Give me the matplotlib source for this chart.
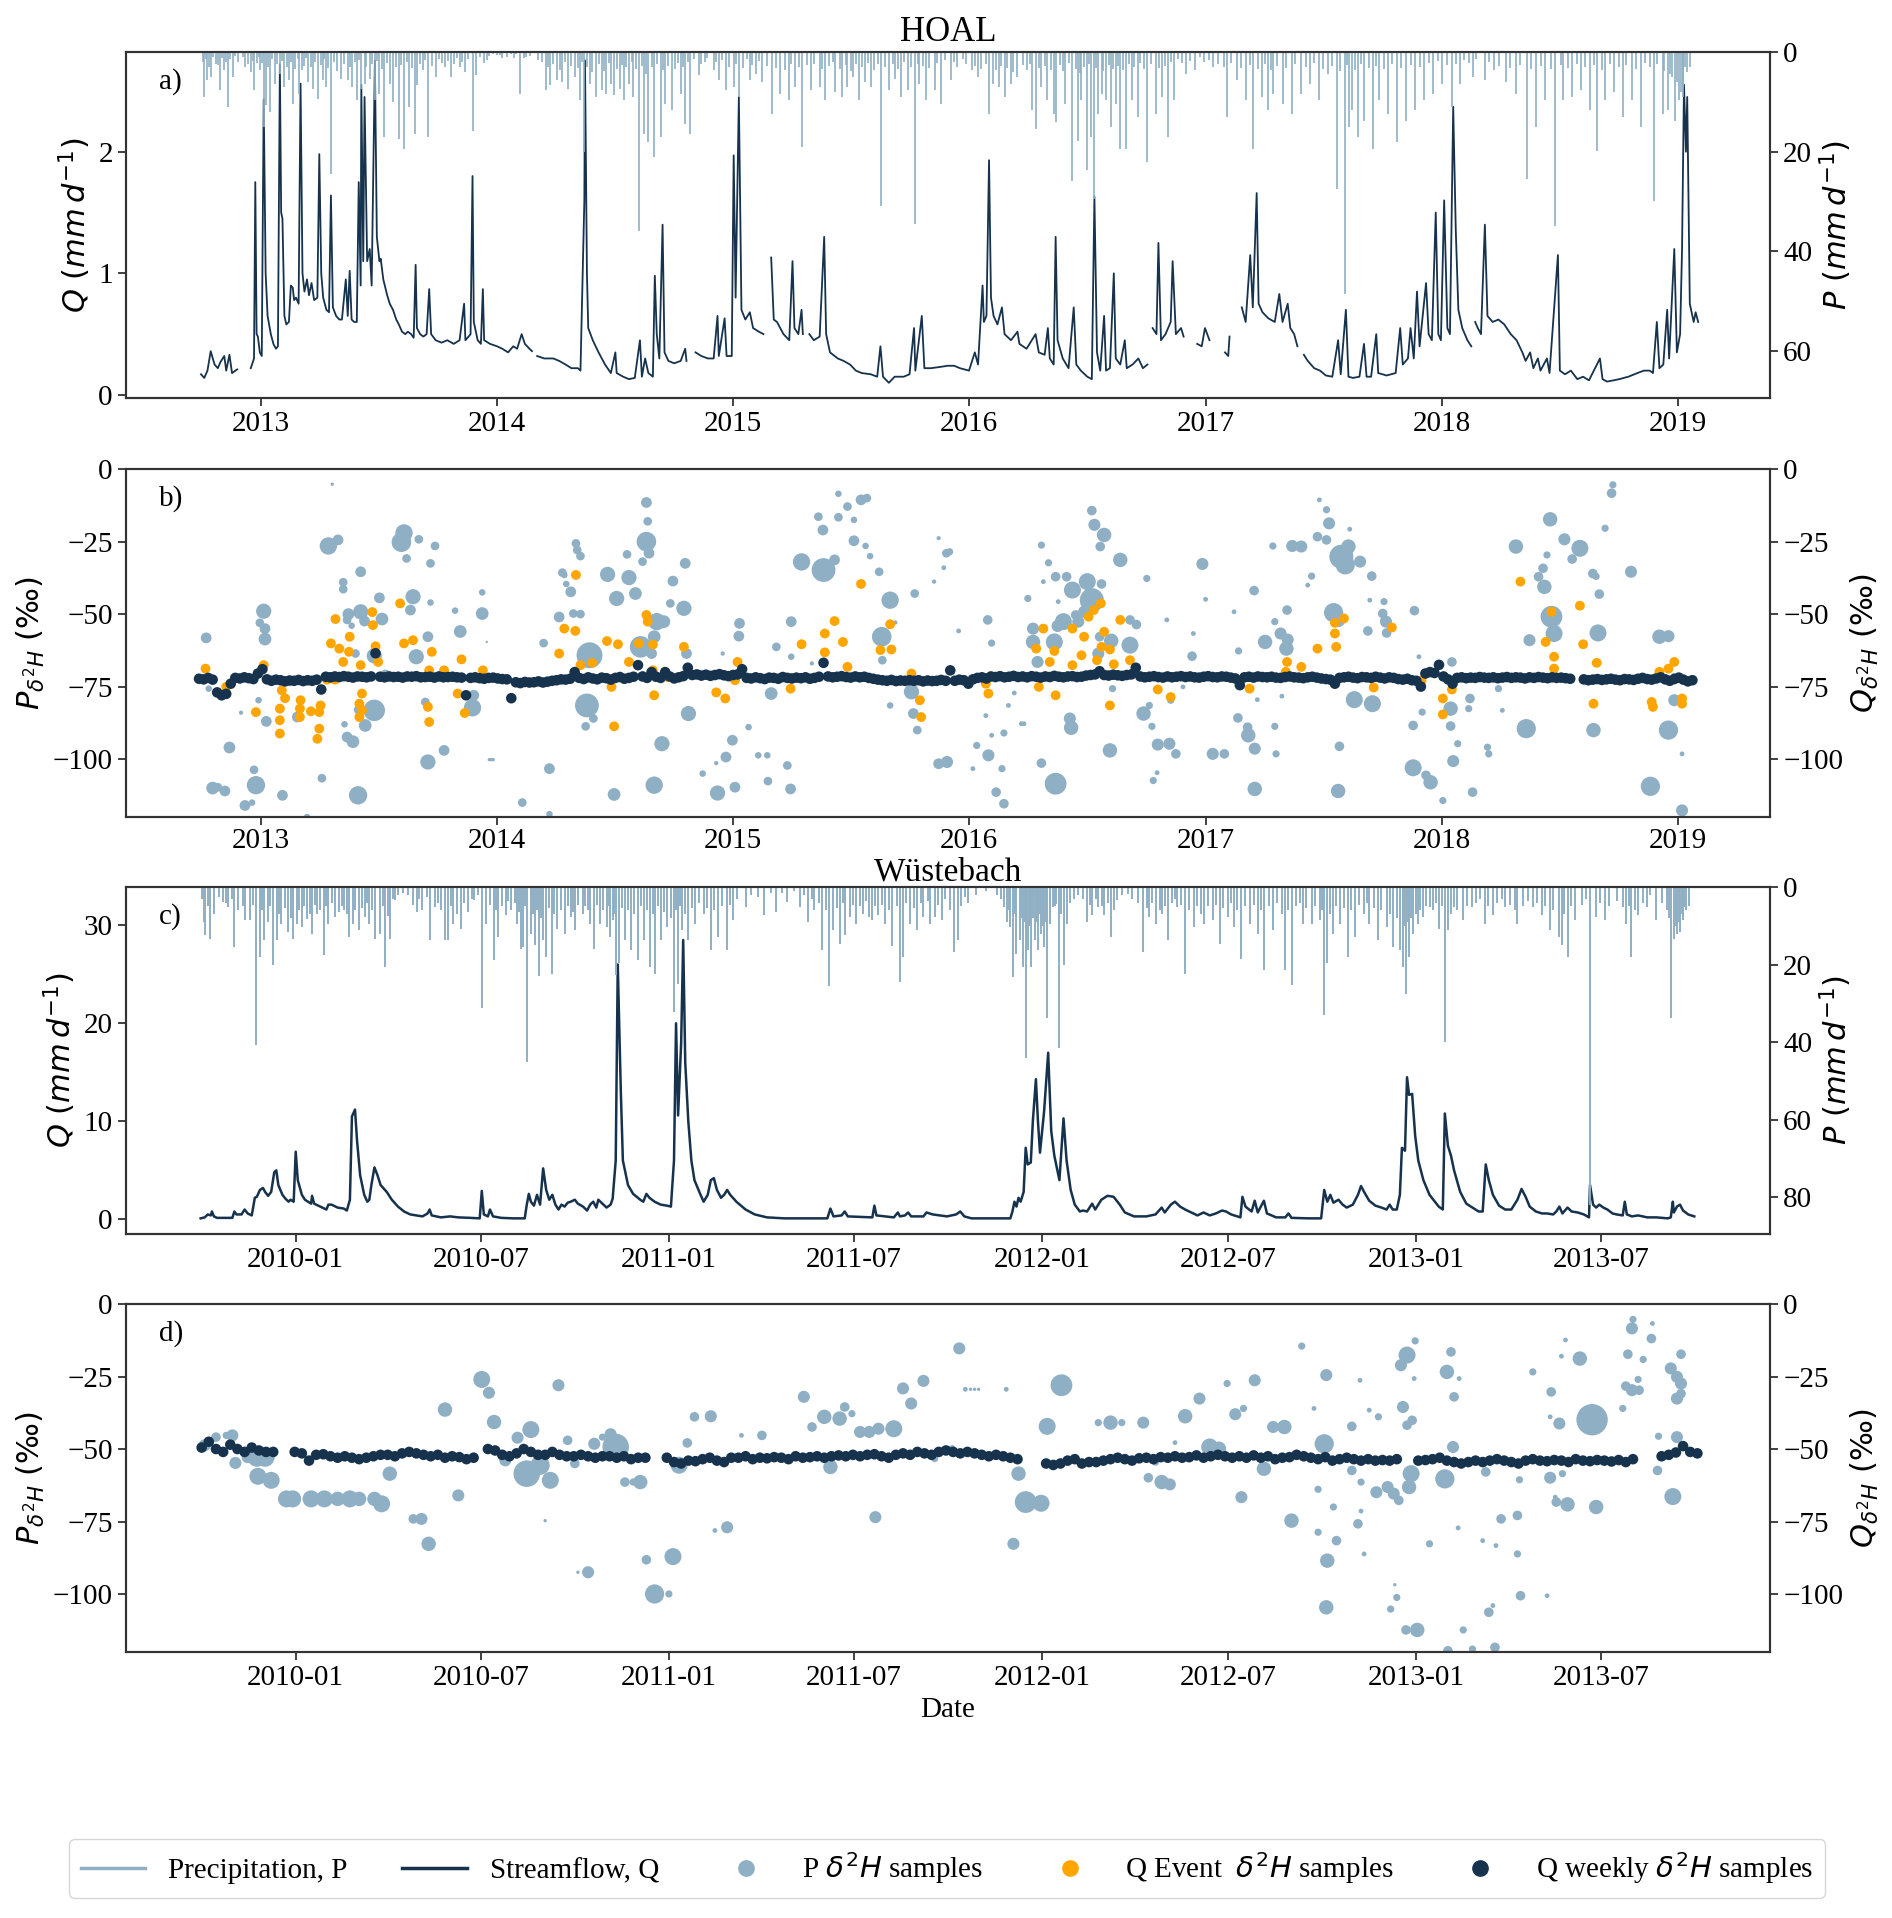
import numpy as np
import pandas as pd
import matplotlib
matplotlib.use("Agg")
import matplotlib.pyplot as plt
import matplotlib.dates as mdates
from matplotlib.lines import Line2D

plt.rcParams['font.family'] = ['Liberation Serif', 'DejaVu Sans']
plt.rcParams['mathtext.fontset'] = 'dejavusans'

nan = np.nan

# ---------------- HOAL (days since 2013-01-01) ----------------
hoal_ref = '2013-01-01'

hoal_q = [(-93,.17),(-88,.14),(-83,.20),(-78,.36),(-72,.25),(-67,.22),(-63,.27),(-57,.32),(-54,.20),(-49,.33),
    (-45,.18),(-37,.21),(-30,nan),(-16,.22),(-11,.30),(-9,1.75),(-7,.50),(-5,.48),(-2,.35),(1,.32),(4,2.43),(7,1.0),
    (10,.65),(15,.50),(19,.42),(23,.38),(26,.40),(29,2.72),(31,1.5),(33,1.45),(36,.65),(39,.58),(43,.60),(46,.90),
    (49,.88),(51,.78),(54,.80),(58,.75),(61,2.56),(64,1.0),(67,.85),(71,.95),(74,.82),(78,.92),(82,.78),(87,.80),
    (90,1.98),(93,1.0),(96,.80),(101,.70),(105,.68),(108,1.64),(111,.72),(116,.65),(121,.62),(125,.62),(131,.95),
    (134,.65),(137,1.02),(140,.62),(144,.60),(148,.60),(151,1.75),(154,.90),(155,2.55),(158,1.1),(160,2.45),(164,1.1),
    (168,1.2),(171,.90),(176,2.75),(179,1.3),(183,1.1),(185,1.12),(189,.95),(195,.82),(199,.75),(204,.70),(209,.62),
    (213,.58),(218,.52),(223,.50),(227,.52),(232,.50),(236,.47),(239,1.07),(241,.55),(246,.50),(251,.48),(256,.50),
    (260,.87),(263,.50),(270,.45),(279,.43),(288,.45),(298,.42),(307,.45),(314,.75),(316,.45),(321,.48),(324,.50),
    (327,1.8),(329,.60),(335,.45),(340,.42),(343,.87),(345,.45),(354,.42),(365,.40),(373,.38),(382,.35),(390,.40),
    (396,.38),(403,.50),(408,.42),(415,.38),(419,.36),(423,nan),(427,.32),(438,.30),(452,.30),(461,.28),(471,.25),
    (480,.22),(490,.22),(494,.20),(500,1.6),(501,2.75),(504,1.0),(506,.55),(513,.45),(522,.35),(532,.25),(541,.18),
    (548,.35),(550,.18),(560,.15),(569,.13),(578,.14),(586,.45),(589,.15),(594,.30),(599,.18),(606,.15),(609,.98),
    (612,.50),(616,.30),(621,1.4),(624,.35),(630,.28),(639,.26),(649,.28),(656,.38),(658,.28),(665,nan),(672,.35),
    (681,.32),(691,.30),(700,.30),(706,.65),(708,.32),(717,.63),(720,.32),(728,.32),(731,1.97),(734,.80),(739,2.45),
    (743,.70),(749,.62),(756,.68),(761,.55),(770,.52),(777,.50),(782,nan),(789,1.13),(793,.62),(798,.60),(808,.50),
    (817,.45),(822,1.1),(825,.55),(831,.50),(836,.70),(838,.50),(843,nan),(848,.50),(855,.45),(864,.48),(871,1.3),
    (874,.50),(880,.35),(892,.30),(901,.28),(911,.25),(920,.20),(929,.18),(943,.17),(953,.15),(958,.40),(962,.15),
    (971,.10),(980,.15),(994,.15),(1003,.17),(1010,.55),(1012,.20),(1022,.65),(1026,.22),(1036,.22),(1050,.23),
    (1062,.24),(1072,.24),(1081,.22),(1095,.20),(1104,.35),(1109,.25),(1116,.90),(1118,.60),(1122,.65),(1126,1.93),
    (1129,.80),(1133,.65),(1139,.58),(1146,.72),(1150,.50),(1160,.45),(1170,.52),(1173,.42),(1184,.38),(1198,.50),
    (1203,.35),(1212,.33),(1217,.55),(1220,.30),(1226,.25),(1229,1.3),(1232,.45),(1240,.30),(1249,.22),(1257,.72),
    (1261,.25),(1268,.20),(1278,.15),(1285,.13),(1289,1.63),(1293,.35),(1298,.20),(1304,.65),(1307,.20),(1313,.22),
    (1319,1.0),(1322,.30),(1329,.25),(1336,.45),(1339,.22),(1348,.25),(1357,.30),(1364,.22),(1371,.25),(1375,nan),
    (1379,.55),(1385,.50),(1388,1.25),(1392,.45),(1399,.50),(1407,.60),(1410,1.1),(1415,.50),(1423,.55),(1427,.48),
    (1437,nan),(1448,.42),(1455,.40),(1460,.55),(1467,.45),(1479,nan),(1491,.35),(1496,.32),(1498,.48),(1507,nan),
    (1517,.72),(1523,.60),(1530,1.15),(1534,.72),(1540,1.66),(1543,.75),(1549,.68),(1558,.63),(1568,.60),(1575,.83),
    (1580,.60),(1588,.75),(1592,.55),(1598,.50),(1603,.40),(1608,nan),(1613,.33),(1619,.28),(1629,.22),(1638,.20),
    (1647,.16),(1657,.15),(1666,.45),(1670,.17),(1678,.70),(1682,.15),(1689,.14),(1699,.15),(1706,.42),(1710,.15),
    (1717,.15),(1725,.50),(1728,.18),(1741,.16),(1755,.18),(1762,.55),(1766,.25),(1774,.30),(1778,.55),(1783,.30),
    (1788,.85),(1792,.40),(1802,.92),(1806,.50),(1811,.45),(1817,1.5),(1821,.50),(1825,.45),(1830,1.6),(1835,.55),
    (1839,.50),(1844,2.37),(1848,1.35),(1852,.70),(1858,.55),(1866,.45),(1872,.40),(1875,nan),(1878,.60),(1882,.55),
    (1887,.50),(1893,1.4),(1897,.65),(1905,.60),(1914,.62),(1923,.58),(1933,.50),(1942,.45),(1951,.35),(1956,.28),
    (1963,.35),(1968,.22),(1975,.30),(1979,.20),(1989,.30),(1993,.18),(2006,1.15),(2009,.20),(2017,.17),(2026,.20),
    (2036,.13),(2045,.15),(2054,.12),(2071,.30),(2075,.13),(2082,.11),(2092,.12),(2101,.13),(2115,.15),(2129,.18),
    (2139,.20),(2148,.20),(2153,.18),(2159,.60),(2163,.22),(2169,.25),(2175,.70),(2178,.30),(2186,1.2),(2190,.35),
    (2195,.50),(2198,1.2),(2201,2.55),(2204,2.0),(2206,2.45),(2210,.75),(2216,.60),(2219,.68),(2223,.60)]

hoal_p = [(-88,9),(-83,5.7),(-77,5),(-67,2.7),(-63,7.7),(-57,3.7),(-51,11),(-44,5),(-25,3),(-16,4),(-11,7.7),
    (-7,2.3),(-2,3.7),(5,15),(8,10.7),(14,12),(22,6.4),(29,4.4),(36,7),(43,5.7),(50,10.4),(59,8.4),(64,3.7),(73,6),
    (80,7.4),(88,9.4),(95,5.7),(101,7),(108,24.5),(124,5.4),(134,5.7),(141,7),(148,9.7),(155,7.4),(160,6.4),
    (168,5.4),(176,9.7),(183,8.4),(190,17),(199,6.4),(204,10),(213,17.4),(221,19.5),(229,11),(238,16.4),(241,6.7),
    (251,3.7),(258,17),(270,5),(284,3),(293,5),(307,3),(316,4),(327,15.8),(333,4.7),(344,2.3),(358,0.4),(365,0.7),
    (373,1.3),(387,0.4),(391,1.3),(401,8.4),(410,1),(429,1.7),(440,7.7),(447,6.7),(457,5.7),(466,6),(475,7.4),
    (485,5),(494,9.7),(500,20),(508,6.4),(518,9),(527,7.7),(534,8.4),(541,6.4),(546,8.7),(555,7.4),(562,9.7),
    (569,6.4),(576,9),(585,36),(592,16.4),(599,18),(608,21),(618,17),(625,10.4),(635,11.7),(649,8.4),(656,14.4),
    (663,16.4),(677,4.7),(686,2),(700,3.7),(709,5.7),(719,7.7),(731,7),(739,9),(756,5.7),(766,4.4),(775,6),
    (791,12.4),(803,8.4),(817,9.7),(826,7),(837,19),(850,7.7),(864,7),(873,9.7),(887,8),(899,9),(906,7),(915,5),
    (925,9.7),(934,6),(943,7),(959,31),(972,7.7),(981,5.4),(990,9),(1000,7.7),(1011,34.6),(1018,6.4),(1028,9.7),
    (1042,7.7),(1051,10.4),(1067,5.7),(1076,3),(1100,3.7),(1109,5),(1126,12.4),(1132,6.4),(1142,7),(1151,9),
    (1160,6.4),(1170,5),(1193,11.7),(1199,15.4),(1207,7),(1216,9.7),(1226,12.4),(1230,14),(1244,10.4),(1255,26),
    (1263,17.8),(1269,9.7),(1277,23.8),(1283,17),(1288,29.5),(1294,12.4),(1300,8.4),(1307,9.7),(1314,15),(1322,10.4),
    (1328,19.5),(1338,19.5),(1347,9.7),(1356,13),(1370,22),(1384,12.4),(1394,9),(1403,17),(1412,9.7),(1431,4.4),
    (1445,3.7),(1459,2),(1473,3),(1494,13),(1510,5.7),(1524,9.7),(1535,19.5),(1548,9),(1557,11.7),(1566,8.4),
    (1580,10.4),(1594,12.4),(1608,8.4),(1622,6.4),(1636,9.7),(1650,4.4),(1664,27.5),(1676,48.7),(1683,15),(1687,11.7),
    (1697,17),(1706,13.8),(1720,19.5),(1729,9.7),(1743,12.4),(1757,18),(1771,13.8),(1785,11.7),(1799,9.7),(1813,8.4),
    (1826,6.4),(1842,11),(1855,6.4),(1874,5),(1893,5.7),(1907,3.7),(1925,6),(1941,8.4),(1958,25.5),(1972,15),
    (1986,9.7),(2002,35),(2014,9.7),(2028,9),(2042,7.7),(2056,11.7),(2067,19.8),(2079,9.7),(2093,8),(2107,13),
    (2121,9.7),(2135,15),(2154,30),(2168,12.4),(2177,11.7),(2187,13.8),(2194,9.7),(2199,9),(2203,3),
    # smaller daily totals
    (-90,2),(-85,1.5),(-80,3),(-74,1),(-70,2.5),(-60,1.2),(-55,2),(-48,1.5),(-40,0.8),(-35,2),(-28,1),(-20,2.5),
    (-12,1.8),(-4,1),(2,2.2),(10,3),(17,1.5),(25,2.5),(32,1.8),(40,3),(46,2),(53,3.5),(57,1.5),(66,2.8),(70,1.2),
    (77,3),(84,2),(92,2.6),(98,1.4),(104,3.2),(112,2),(118,3.8),(128,2.4),(137,3),(145,2),(151,1.6),(163,3),
    (172,2.5),(180,1.8),(187,3.4),(195,2.2),(208,3),(216,2.6),(225,2),(233,3.2),(245,2.4),(254,1.6),(264,2.8),
    (275,1.5),(280,2.2),(289,1.8),(298,2.5),(303,1.2),(311,2),(320,1.5),(338,1),(349,1.6),(352,0.8),(370,0.6),
    (380,1),(395,0.5),(406,1.2),(416,0.8),(435,2),(444,3),(452,2.4),(462,3.6),(470,2),(480,2.8),(490,3.3),(497,2),
    (504,3),(512,4),(522,2.5),(530,3.8),(538,2.2),(551,3.4),(558,2.6),(565,3.1),(573,2),(580,3.5),(589,2.8),
    (596,4.4),(604,3),(612,2.4),(621,3.6),(630,2.8),(640,3.4),(645,2.2),(653,3),(660,2),(670,1.5),(681,2.5),
    (690,1.2),(704,2),(713,1.6),(724,3),(735,2.4),(746,3.2),(752,1.5),(760,2.6),(770,1.8),(782,2.9),(796,3.3),
    (810,3.6),(820,2.5),(832,3),(845,2.7),(855,2.4),(868,3.5),(878,2.8),(884,2),(895,3.4),(904,2.6),(912,3.8),
    (920,2.4),(930,3),(938,2.2),(948,3.6),(955,2.4),(965,3),(977,2.5),(985,3.4),(995,2),(1005,3.1),(1016,2.4),
    (1024,2.8),(1033,3.2),(1045,2.2),(1058,1.6),(1072,2),(1085,1.4),(1091,2.5),(1104,2.8),(1113,3.5),(1121,2.4),
    (1137,3.6),(1145,2.8),(1154,3.2),(1163,4),(1178,2.6),(1185,3.6),(1190,2.4),(1204,3.3),(1212,2.8),(1222,3.7),
    (1235,2.6),(1241,3.8),(1250,2.2),(1260,3.5),(1266,4.2),(1273,3),(1280,2.4),(1292,3.2),(1303,3.8),(1311,2.6),
    (1318,3.4),(1326,2.8),(1333,3.6),(1342,2.4),(1351,3),(1360,2.2),(1366,3.4),(1376,2.5),(1389,3.2),(1398,2.8),
    (1407,2),(1418,1.4),(1425,2.2),(1437,1.8),(1452,1),(1466,1.6),(1480,2.4),(1490,3),(1500,2.2),(1515,3.2),
    (1530,2.6),(1542,3.5),(1553,2.4),(1562,3.6),(1572,2.8),(1585,3.2),(1600,2.5),(1617,3),(1628,2.2),(1642,3.4),
    (1657,2.8),(1669,3.8),(1680,2.6),(1692,3.6),(1701,2.4),(1713,3.3),(1725,2.8),(1737,3.4),(1750,2.5),(1764,3.2),
    (1778,2.6),(1792,3.1),(1806,2.3),(1820,1.8),(1834,2.6),(1848,2.4),(1860,1.6),(1868,2.3),(1880,1.5),(1900,2),
    (1915,2.8),(1932,3.2),(1948,2.6),(1965,3.5),(1980,2.8),(1995,3.4),(2010,2.6),(2022,3.3),(2035,2.5),(2048,3),
    (2062,2.7),(2074,3.6),(2086,2.4),(2100,3.1),(2112,2.6),(2126,3.4),(2140,2.2),(2148,3),(2160,2.5),(2170,3.8),
    (2180,4.5),(2183,5),(2190,6),(2196,8),(2200,7),(2205,4),(2210,3)]

# P isotope samples: (day, d2H, sample precipitation mm)
hoal_p_iso = [(-85,-58.2,10),(-81,-75.7,3.7),(-75,-110,14),(-67,-109.7,6.5),(-56,-111,10),(-49,-96,12),(-31,-84,1.6),
    (-25,-116,10),(-14,-115,3.7),(-11,-103.7,6.5),(-8,-109,29),(-4,-79.7,3.7),(-2,-53,6.5),(4,-49,20),(6,-55,10),
    (6,-58.6,14),(8,-87,10),(33,-112.5,10),(36,-79,3.7),(56,-85.5,10),(71,-120,3.7),(94,-106.6,6.5),(104,-26.5,26),
    (119,-24.4,10),(110,-5.2,1),(127,-39,6.5),(127,-41.4,6.5),(133,-52,6.5),(135,-50,12),(140,-54,3.7),(146,-63.6,6.5),
    (150,-83,6.5),(129,-88,3.7),(133,-92.4,10),(142,-94,14),(150,-112.5,29),(154,-35.4,10),(154,-49.2,20),(160,-52.4,10),
    (161,-88.4,14),(175,-83.2,40),(175,-64.4,20),(183,-44.4,10),(187,-51.7,14),(192,-71,10),(217,-25.2,33),(221,-22,26),
    (225,-30.8,6.5),(235,-44,20),(231,-48.6,10),(244,-24.2,6.5),(240,-64.7,20),(258,-57.8,10),(262,-32.5,6.5),
    (269,-26.5,6.5),(262,-46,3.7),(254,-80.3,6.5),(258,-101,20),(283,-97,10),(300,-48.8,3.7),(308,-56,14),
    (327,-82.3,26),(329,-78,10),(342,-49.8,14),(342,-42.5,3.7),(349,-59.6,0.5),(353,-100.2,1),(356,-100.2,1),
    (359,-100.2,1),(404,-115,6.5),(437,-60,6.5),(446,-103.3,10),(446,-119,3.7),(461,-51,10),(466,-35.7,6.5),
    (469,-36.5,3.7),(472,-39.6,3.7),(479,-42.3,10),(487,-25.6,6.5),(489,-27.9,6.5),(494,-30,6.5),(483,-49.8,6.5),
    (494,-50,6.5),(508,-64.2,58),(504,-81.5,49),(502,-88.7,6.5),(514,-86,6.5),(536,-36.3,20),(550,-44.6,20),
    (546,-112.2,14),(566,-29.4,6.5),(569,-37.4,20),(579,-42.9,14),(590,-31.9,6.5),(596,-25,33),(598,-18,6.5),
    (596,-11.5,10),(600,-29,10),(587,-61.3,40),(612,-52.6,26),(623,-52.6,14),(608,-57.8,14),(604,-63.6,10),
    (620,-94.7,20),(608,-109,26),(633,-46.3,6.5),(637,-38.6,10),(654,-48,20),(656,-32.5,10),(661,-84.3,20),
    (658,-63.6,10),(706,-111.7,20),(733,-109.7,10),(719,-99.3,10),(729,-93.5,10),(740,-53.2,10),(739,-57.6,10),
    (754,-89,3.7),(769,-98.7,3.7),(783,-98.7,3.7),(784,-107.6,6.5),(789,-77.4,14),(797,-61.3,6.5),(814,-102.2,6.5),
    (819,-110.3,10),(820,-52.6,10),(820,-64.7,3.7),(836,-32,26),(862,-16.4,6.5),(869,-21,10),(870,-34.8,49),
    (887,-31.3,10),(893,-8.5,3.7),(893,-16.6,6.5),(907,-12.9,6.5),(917,-17.5,3.7),(917,-24.7,10),(928,-10.6,10),
    (937,-10,6.5),(935,-26.5,3.7),(942,-30,3.7),(956,-35.4,6.5),(973,-45.2,26),(960,-57.8,33),(961,-65.9,6.5),
    (973,-81.5,3.7),(1006,-76.8,20),(1009,-84.3,10),(1015,-90,6.5),(1011,-42.9,6.5),(1048,-23.8,1.5),(1048,-101.6,10),
    (683,-105,3.7),(704,-101.4,1.6),(714,-63.6,1.6),(852,-67,1.6),(981,-52.9,1.6),(1041,-38.8,1.6),(1060,-29,6.5),
    (1065,-28.5,4.5),(1056,-34,2),(1061,-101,12.6),(1079,-55.8,2),(1101,-103.3,2),(1107,-95.3,4.5),(1125,-98.7,12.6),
    (1124,-52,8),(1130,-60,4.5),(1121,-85,2),(1130,-91.8,2),(1137,-111.4,8),(1146,-103.3,4.5),(1149,-91,4.5),
    (1149,-115.4,8),(1156,-81.5,2),(1165,-77.2,2),(1176,-87.8,2),(1180,-87.8,2),(1186,-44.6,4.5),(1194,-55,12.6),
    (1194,-59.6,18),(1201,-66.5,12.6),(1207,-26.2,4.5),(1207,-101.4,8),(1210,-38.8,2),(1218,-32.3,4.5),(1227,-59.6,25),
    (1229,-37.1,8),(1233,-45.7,2),(1232,-54.1,12.6),(1229,-108.5,41),(1241,-52.6,25),(1246,-37.1,8),(1251,-86,12.6),
    (1253,-89.2,18),(1255,-41.7,25),(1260,-50.3,8),(1264,-52.6,12.6),(1273,-49.2,12.6),(1278,-38.8,25),(1285,-45.2,50),
    (1285,-14.3,8),(1289,-19.2,12.6),(1304,-22.7,18),(1298,-26.7,8),(1300,-39.6,8),(1295,-63.6,12.6),(1297,-57.8,8),
    (1313,-97,18),(1315,-59.2,18),(1317,-75.7,4.5),(1329,-31.3,18),(1344,-60.7,25),(1344,-52,8),(1354,-53.6,8),
    (1370,-37.7,4.5),(1365,-84.3,18),(1374,-81.5,4.5),(1378,-88.7,4.5),(1380,-107.4,4.5),(1386,-104.7,2),(1387,-95,12.6),
    (1405,-94.7,12.6),(1415,-98.2,8),(1401,-52,2),(1407,-79.7,4.5),(1426,-75.1,2),(1442,-56.7,2),(1440,-64.5,8),
    (1456,-32.7,12.6),(1461,-44.9,2),(1472,-98.2,12.6),(1490,-98.2,8),(1505,-49.2,2),(1512,-62.7,4.5),(1511,-85.8,8),
    (1526,-89,8),(1527,-91.8,18),(1537,-96.4,12.6),(1537,-110.3,18),(1536,-41.9,8),(1541,-79.5,2),(1553,-59.6,18),
    (1565,-26.5,4.5),(1568,-52.6,4.5),(1570,-98.2,4.5),(1568,-88.7,4.5),(1577,-56.7,12.6),(1579,-78.3,2),(1587,-48.6,8),
    (1586,-61.9,18),(1588,-58.8,12.6),(1595,-26.5,12.6),(1609,-26.7,12.6),(1619,-40,2),(1625,-36.9,4.5),(1634,-23.3,8),
    (1637,-10.6,2),(1648,-14,4.5),(1652,-18.7,12.6),(1648,-24.4,8),(1659,-49.5,32),(1666,-52,18),(1668,-95.6,8),
    (1666,-111,18),(1671,-30.2,50),(1682,-26.7,18),(1677,-33,32),(1700,-31.9,12.6),(1684,-20.7,2),(1718,-36.9,8),
    (1691,-79.5,25),(1719,-80.9,25),(1712,-55.8,8),(1715,-45.2,2),(1737,-45.7,4.5),(1735,-49.8,8),(1740,-52.6,12.6),
    (1741,-56.5,8),(1784,-48.8,8),(1782,-88.4,8),(1782,-103,25),(1802,-105.6,8),(1809,-108,18),(1796,-83.8,4.5),
    (1791,-64.7,2),(1828,-114.3,4.5),(1840,-82.6,18),(1842,-66.5,8),(1840,-88.6,8),(1844,-100.7,12.6),(1851,-94.7,4.5),
    (1870,-79.1,8),(1868,-82.6,4.5),(1874,-111.4,8),(1897,-95.9,4.5),(1899,-98.2,4.5),(1914,-75.7,4.5),(1920,-83.2,2),
    (1941,-26.7,18),(1957,-89.5,32),(1962,-59,12.6),(1976,-37.1,8),(1985,-40.6,18),(1983,-34.2,8),(1994,-17.3,18),
    (1989,-29.6,4.5),(1996,-50.9,41),(2000,-56.7,25),(2016,-24.2,12.6),(2040,-27.3,25),(2028,-31,8),(2061,-90,18),
    (2068,-56.5,25),(2070,-43.1,8),(2060,-36,8),(2065,-37,4.5),(2079,-20.4,4.5),(2089,-8.3,8),(2091,-5.4,4.5),
    (2119,-35.4,12.6),(2149,-109.4,32),(2163,-57.8,18),(2177,-57.6,12.6),(2177,-90,32),(2186,-79.7,12.6),
    (2198,-117.7,12.6),(2198,-98.2,2),(2185,-71.1,2)]

hoal_q_event = [(-86,-68.8),(-54,-75.1),(-8,-83.8),(4,-67.6),(32,-76.3),(29,-82.6),(29,-86.6),(29,-91.2),(37,-79),
    (61,-79.7),(60,-82.6),(60,-85.5),(77,-83.5),(92,-81.5),(90,-83.8),(90,-89.5),(87,-93),(108,-60.1),(115,-51.7),
    (121,-61.9),(127,-66.5),(137,-57.8),(136,-63),(102,-72.6),(114,-72.6),(154,-67.6),(156,-77.4),(152,-80.9),
    (156,-83.2),(152,-85.5),(172,-49.3),(173,-53.8),(177,-61.1),(181,-66.5),(215,-46.3),(221,-60.1),(235,-59),
    (264,-63),(260,-69.4),(258,-82),(260,-87.2),(283,-69.4),(304,-77.4),(310,-65.6),(315,-84.1),(343,-69.4),
    (461,-63.6),(469,-55),(487,-36.5),(486,-55.8),(494,-67.6),(512,-66.8),(535,-59.3),(552,-60.4),(542,-75.1),
    (546,-88.7),(569,-66.5),(584,-60.1),(596,-50.3),(598,-52.6),(606,-60.5),(606,-69.4),(608,-78),(629,-71.7),
    (654,-61.3),(704,-77),(718,-79.1),(737,-66.5),(733,-72.8),(819,-75.7),(836,-60.4),(872,-56.7),(887,-52.4),
    (872,-63.2),(900,-59.6),(907,-68.2),(928,-39.6),(958,-62.4),(973,-53.5),(975,-62.2),(1006,-70.5),(1019,-79.7),
    (1021,-85.5),(1125,-77.4),(1121,-74),(1199,-61.9),(1210,-55),(1227,-62.7),(1220,-66.5),(1203,-75.1),(1229,-78),
    (1255,-55),(1255,-67.6),(1269,-64.2),(1273,-57.8),(1280,-50.9),(1288,-48.6),(1299,-46.3),(1293,-65.9),
    (1304,-56.1),(1300,-61.3),(1313,-62.2),(1319,-67.3),(1329,-52),(1313,-81.5),(1344,-65.9),(1387,-76),(1407,-78.6),
    (1587,-66.5),(1609,-68.2),(1585,-69.9),(1529,-75.7),(1634,-61.9),(1661,-53),(1661,-56.7),(1663,-61.3),
    (1675,-51.5),(1749,-54.6),(1721,-75.3),(1795,-73),(1828,-79.1),(1828,-84.6),(1842,-76),(1948,-38.8),(1987,-59.6),
    (1996,-49.2),(2000,-64.7),(2000,-68.8),(2040,-47.1),(2045,-60.4),(2066,-66.8),(2061,-80.9),(2151,-80.3),
    (2153,-82),(2163,-69.9),(2177,-68.8),(2186,-66.5),(2198,-79.1),(2198,-80.9)]

# weekly streamflow samples, first on 2012-09-27
hoal_weekly_start = '2012-09-27'
hoal_weekly = [-72.3,-72.5,-72.0,-72.6,-77.0,-78.0,-77.5,-74.0,-72.0,-72.2,-71.8,-72.1,-72.4,-70.5,-69.0,
    -72.5,-73.0,-72.6,-72.8,-73.2,-72.9,-73.0,-72.7,-73.1,-72.8,-73.0,-72.6,-76.0,
    -71.6,-71.8,-71.5,-71.7,-71.4,-71.6,-71.9,-71.5,-71.6,-71.8,-71.5,-63.5,
    -71.6,-71.8,-71.5,-71.7,-71.6,-71.9,-71.5,-71.6,-71.4,-71.8,-71.7,-71.6,-71.9,-71.5,-71.8,-71.7,-71.6,-71.8,-71.9,
    -78.0,-72.0,-71.8,-72.1,-72.3,-72.0,-71.9,-72.2,-72.4,-72.5,-79.0,
    -73.5,-73.8,-73.4,-73.6,-73.5,-73.2,-73.6,-73.3,-73.0,-72.8,-72.5,-72.6,-72.3,-70.0,
    -72.0,-72.4,-71.8,-72.2,-72.5,-71.9,-72.1,-72.6,-72.0,-71.7,-72.3,-72.0,-71.6,-67.6,-71.5,-72.0,-70.0,
    -71.6,-72.0,-70.0,-71.5,-72.2,-71.8,-71.4,-68.5,
    -71.0,-70.8,-71.2,-70.9,-71.3,-71.0,-70.7,-71.1,-71.4,-71.0,-70.8,-69.0,
    -72.0,-72.2,-71.8,-72.1,-72.4,-71.9,-72.0,-72.3,-71.7,-72.0,-72.2,-71.9,-72.1,-71.8,-72.3,-72.0,-71.6,-66.8,
    -71.5,-71.8,-71.6,-71.4,-71.7,-71.9,-71.5,-71.8,-71.6,-72.0,-72.3,-72.6,-72.8,-73.0,-72.7,-73.1,-72.9,-73.0,-72.8,
    -73.0,-72.8,-73.2,-72.9,-73.1,-73.0,-72.7,-73.0,-69.4,
    -73.0,-72.6,-72.8,-74.0,-72.5,-72.0,-71.8,-72.2,-71.5,-71.7,-71.4,-71.8,-71.6,-71.3,-71.7,-71.5,
    -71.8,-71.4,-71.6,-71.9,-71.5,-71.7,-71.3,-71.6,-71.8,-71.5,-71.4,-71.7,-71.6,-71.2,-71.0,-70.8,-69.7,
    -71.0,-71.2,-70.9,-71.1,-71.3,-71.0,-70.8,-68.5,
    -71.5,-71.8,-71.6,-71.4,-71.7,-71.9,-71.5,-71.8,-71.6,-71.4,-71.7,-71.5,-71.8,-71.9,-71.6,-71.4,-71.7,-71.8,
    -71.5,-71.6,-71.9,-72.2,-74.5,
    -71.8,-71.6,-71.9,-71.5,-71.7,-71.8,-71.6,-71.9,-72.0,-71.7,-71.5,-71.8,-71.9,-72.1,-71.8,-71.6,-71.9,-72.2,
    -72.4,-72.6,-74.0,
    -72.0,-71.8,-71.6,-71.9,-72.1,-71.7,-71.8,-72.0,-71.6,-71.9,-72.2,-71.8,-72.0,-72.4,-72.6,-72.3,-72.8,-73.0,
    -75.0,-70.5,-70.0,-70.3,-67.5,-71.5,-72.5,-74.0,
    -72.0,-71.8,-72.1,-71.9,-72.0,-71.7,-71.9,-72.0,-71.8,-72.1,-71.9,-71.7,-72.0,-71.8,-71.9,-72.2,-71.8,-72.0,
    -71.7,-71.9,-72.1,-71.8,-72.0,-71.9,-72.1,-72.3,nan,nan,
    -72.5,-72.8,-72.6,-72.4,-72.7,-72.5,-72.3,-72.6,-72.8,-72.4,-72.5,-72.7,-72.3,-72.0,-72.4,-72.6,-72.2,-71.8,
    -72.5,-73.0,-72.4,-71.9,-72.6,-73.2,-72.8]

# ---------------- Wuestebach (days since 2010-01-01) ----------------
wue_ref = '2010-01-01'

wue_q = [(-93,.1),(-89,.2),(-86,.5),(-83,.4),(-82,.8),(-80,.3),(-77,.15),(-62,.15),(-60,.8),(-58,.5),(-53,.5),
    (-50,1.0),(-47,.6),(-43,.4),(-40,2.2),(-38,2.3),(-35,3.0),(-32,3.2),(-30,2.8),(-27,2.4),(-24,2.8),(-21,4.8),
    (-19,5.0),(-17,3.5),(-13,2.5),(-10,2.1),(-7,1.8),(-5,2.0),(-2,1.8),(0,6.9),(2,4.0),(6,2.5),(9,2.0),(12,1.8),
    (15,1.6),(16,2.4),(18,1.6),(24,1.3),(30,1.0),(32,1.5),(35,1.5),(41,1.2),(47,1.1),(50,.9),(53,2.0),(55,10.5),
    (58,11.2),(60,8.0),(63,4.5),(67,2.5),(70,1.8),(72,2.0),(74,3.5),(77,5.3),(80,4.5),(83,3.5),(89,2.8),(94,2.0),
    (100,1.3),(106,.8),(112,.5),(118,.4),(124,.3),(129,.6),(131,1.0),(133,.4),(142,.2),(151,.3),(159,.2),(171,.15),
    (180,.1),(182,2.9),(184,.5),(188,.3),(190,1.0),(193,.3),(201,.15),(213,.1),(224,.1),(226,1.5),(228,2.6),
    (230,1.8),(233,1.4),(236,2.5),(239,1.5),(242,5.2),(245,3.0),(248,2.0),(251,2.5),(254,1.5),(257,1.0),(260,1.5),
    (263,1.3),(266,1.7),(269,1.8),(273,2.0),(276,1.6),(281,1.3),(285,.9),(288,1.5),(291,1.8),(294,1.2),(296,2.0),
    (299,1.7),(304,1.2),(308,1.5),(310,2.1),(313,6.0),(315,26.0),(318,13.0),(320,6.0),(325,3.5),(330,2.6),
    (337,2.0),(340,1.8),(343,2.6),(346,2.2),(351,1.8),(357,1.5),(363,1.4),(367,1.3),(370,6.0),(372,20.0),
    (374,10.6),(377,18.0),(379,28.5),(381,16.0),(384,10.0),(387,6.0),(390,4.0),(396,2.5),(399,1.8),(403,2.5),
    (406,4.0),(409,4.2),(412,3.0),(416,2.2),(419,2.5),(422,3.0),(425,2.5),(431,1.8),(440,1.0),(449,.5),(461,.2),
    (478,.1),(520,.1),(523,1.1),(526,.3),(534,.4),(537,.8),(540,.3),(564,.2),(566,1.4),(568,.4),(585,.2),(589,.7),
    (591,.3),(596,.4),(599,.7),(602,.3),(614,.3),(617,.7),(623,.5),(637,.3),(646,.5),(650,.8),(654,.3),(661,.1),
    (699,.1),(701,.8),(703,1.8),(705,1.3),(707,2.2),(709,1.8),(712,2.8),(714,7.3),(716,5.6),(719,5.8),(721,10.0),
    (724,14.3),(726,10.0),(728,6.8),(732,11.0),(736,17.0),(739,9.0),(742,6.5),(747,4.0),(751,10.3),(754,6.0),
    (758,3.0),(762,1.5),(767,.8),(770,.9),(774,.8),(779,1.6),(782,1.0),(788,2.0),(794,2.4),(800,2.3),(806,1.5),
    (811,.7),(820,.3),(832,.3),(841,.5),(847,1.2),(850,.7),(856,1.5),(860,1.8),(865,1.3),(870,1.0),(876,.7),
    (882,.4),(888,.7),(894,.4),(900,.6),(906,.9),(910,.8),(915,.5),(921,.3),(924,.2),(926,2.3),(929,1.3),(935,.8),
    (938,1.9),(941,.7),(947,1.9),(950,.6),(959,.2),(968,.2),(971,.6),(974,.15),(991,.1),(1003,.1),(1006,3.0),
    (1009,1.8),(1012,2.5),(1015,1.7),(1020,2.0),(1024,1.5),(1028,1.2),(1034,1.5),(1039,2.5),(1042,3.4),(1045,2.8),
    (1050,1.9),(1056,1.4),(1062,1.2),(1067,1.0),(1070,1.5),(1073,1.0),(1077,1.0),(1080,2.5),(1082,7.3),(1085,7.0),
    (1087,14.5),(1089,12.7),(1092,12.8),(1095,8.5),(1098,6.0),(1103,4.0),(1109,2.5),(1118,1.3),(1122,1.0),
    (1124,10.8),(1127,7.5),(1130,6.5),(1133,5.0),(1139,2.8),(1145,1.6),(1151,1.2),(1157,.8),(1161,.8),(1164,5.6),
    (1167,4.0),(1171,2.5),(1177,1.4),(1183,1.0),(1189,1.0),(1195,2.0),(1199,3.1),(1203,2.3),(1207,1.3),(1213,.8),
    (1219,.6),(1224,.6),(1230,.5),(1233,.8),(1236,1.3),(1239,.6),(1244,1.2),(1248,.8),(1254,.7),(1260,.5),
    (1265,.2),(1266,3.5),(1269,1.5),(1272,1.2),(1275,1.5),(1279,1.2),(1283,1.0),(1288,.6),(1292,.5),(1298,.4),
    (1300,1.8),(1302,.5),(1307,.3),(1313,.4),(1322,.2),(1331,.2),(1342,.1),(1345,.2),(1347,1.8),(1348,.7),
    (1351,1.3),(1354,1.5),(1357,.9),(1362,.5),(1368,.3)]

wue_p = [(-90,9),(-89,12.4),(-84,13.3),(-80,6.9),(-71,3.9),(-66,5.2),(-60,15.5),(-56,6),(-50,8.6),(-45,8.6),
    (-39,40.8),(-35,18),(-31,13.7),(-27,9),(-22,20.2),(-18,13.7),(-14,9.4),(-8,11.6),(-3,13.3),(1,9.4),(6,10.3),
    (11,8.2),(16,12),(21,6.9),(28,17.6),(32,9.4),(38,7.7),(47,6),(52,12.9),(56,9.4),(62,11.2),(68,7.7),(72,9.4),
    (78,13.3),(82,12),(87,20.6),(92,13.3),(97,3.4),(100,2.1),(115,4.7),(119,6.4),(124,6),(131,13.7),(136,5.2),
    (146,13.7),(149,13.7),(154,9.4),(162,10.7),(169,6.4),(174,3.4),(182,31.3),(186,9.4),(194,18.9),(198,12.9),
    (206,7.3),(211,6),(216,9.4),(220,15.9),(222,15.5),(226,45),(230,12),(234,15),(238,23),(242,13.7),(245,18),
    (251,22.3),(256,10.7),(263,12),(269,7.7),(273,11.2),(281,6.9),(288,9.4),(292,15.9),(298,9.4),(304,10.3),
    (307,12.9),(310,8.6),(313,22.7),(316,19.7),(322,13.7),(328,16.3),(335,18.9),(341,13.7),(347,20.6),(351,22.3),
    (357,13.7),(363,10.3),(370,32.2),(374,24.9),(378,11.2),(384,13.7),(391,9.4),(399,6.9),(406,16.3),(413,12.9),
    (422,16.3),(428,8.6),(440,5.2),(458,7.3),(470,6.4),(481,3.9),(493,5.2),(501,9),(507,6),(515,16.3),(522,25.6),
    (526,11.2),(532,14.6),(537,12.4),(542,7.7),(548,9.4),(555,6.9),(561,7.7),(564,8.6),(570,7.3),(576,9.4),
    (583,15.3),(591,24.5),(594,18),(601,9.4),(608,11.2),(614,7.7),(620,9.4),(625,7.7),(632,8.6),
    (640,6),(644,16.7),(648,13.7),(655,2.6),(693,5.2),(696,9),(699,10.3),(702,23.2),(705,17.2),(708,13.7),
    (711,20.6),(714,44.2),(716,16.3),(719,20.6),(723,13.7),(726,16.3),(729,12),(732,15.5),(735,33.9),(738,9.4),
    (741,5.2),(744,4.3),(747,41.6),(751,20.2),(754,9.4),(761,3),(774,9),(779,7.3),(785,5.2),(791,7.3),(797,12.9),
    (803,3.4),(814,1.7),(829,16.7),(835,7.7),(841,9.4),(847,6.9),(853,13.7),(862,5.2),(870,22.3),(879,10.3),
    (888,9.4),(897,8.6),(904,14.6),(912,7.7),(918,10.3),(925,18.5),(933,9.4),(941,12),(947,21.5),(956,11.2),
    (968,21.5),(974,25.3),(985,9.4),(994,9.4),(1002,8.6),(1006,33),(1009,19.7),(1015,12),(1021,9.4),(1029,18),
    (1036,12.9),(1045,6.9),(1050,9.4),(1059,13.7),(1067,10.3),(1073,15.5),(1080,16.3),(1083,20.6),(1086,27.5),
    (1089,18),(1093,12),(1098,9.4),(1103,7.7),(1109,5.2),(1118,10.7),(1124,39.9),(1127,11.2),(1133,5.2),
    (1142,8.6),(1151,5.2),(1163,9.4),(1171,7.3),(1183,5.2),(1195,9.4),(1210,5.2),(1219,7.3),(1227,11.2),
    (1236,12.9),(1239,15),(1244,18),(1251,8.6),(1266,82),(1272,7.7),(1281,8.6),(1298,5.2),(1301,9.4),(1306,18),
    (1313,7.3),(1322,5.2),(1331,8.6),(1345,33.9),(1348,13.3),(1351,12),(1354,11.6),(1357,8.6),(1358,5.2),
    # smaller daily totals
    (-92,3),(-86,5),(-75,2.5),(-68,4),(-62,3),(-52,5),(-42,4.5),(-33,6),(-25,5),(-16,7),(-10,5.5),(-5,8),(3,6),
    (8,5),(14,7),(19,4.5),(24,6),(30,5),(35,4),(42,6.5),(45,5),(50,7),(58,6),(65,5.5),(70,4),(75,6),(85,5),
    (90,7.5),(95,3),(105,1.5),(110,2),(121,3),(128,2.5),(139,4),(142,6),(152,5),(158,7),(165,4),(172,3),(178,2),
    (190,4.5),(196,6),(202,5),(208,3.5),(214,4),(218,6.5),(224,5),(232,7),(236,6),(240,8),(248,5.5),(253,7),
    (259,6),(266,5),(271,6.5),(276,4.5),(283,5),(286,6),(295,4.5),(301,6),(306,5),(311,7),(319,5.5),(325,6),
    (331,7),(338,5),(344,6),(349,7),(354,5),(360,6.5),(367,8),(372,6),(376,5),(381,7),(388,5.5),(394,4),
    (402,5.5),(409,6),(417,5),(425,4.5),(432,3),(445,2),(452,2.5),(465,1.5),(476,1.5),(487,1),(497,2),(505,3),
    (512,4),(519,6),(529,5.5),(535,4),(545,4.5),(552,5),(558,3.5),(567,5),(573,4.5),(580,6),(588,5),(597,4),
    (605,5.5),(612,4),(618,3.5),(628,4.5),(635,3),(651,5),(658,4),(665,2),(675,1),(686,2),(690,3),(698,6),
    (704,7),(710,8),(713,9),(718,10),(721,8),(725,9),(728,7),(731,10),(734,9),(738,6),(743,5),(749,7),(757,4),
    (765,2),(770,3),(777,4.5),(783,3),(789,5),(795,4),(800,6),(808,2),(818,3),(824,4),(833,5.5),(838,4),(845,6),
    (850,5),(857,4),(860,3),(866,4.5),(874,6),(882,5),(885,7),(892,5),(900,4.5),(907,5.5),(915,4),(921,6),
    (929,5),(937,4.5),(944,6),(952,5),(960,4),(965,7),(971,6),(978,5),(982,4),(988,5.5),(997,5),(1004,6),
    (1012,7),(1018,5),(1025,5.5),(1032,6),(1040,4.5),(1048,4),(1055,5.5),(1062,6),(1070,7),(1077,8),(1084,10),
    (1088,9),(1091,8),(1096,7),(1100,6),(1106,5),(1112,6),(1115,4),(1121,5),(1130,7),(1136,6),(1146,5),
    (1154,4),(1158,3),(1166,5),(1175,4),(1180,3),(1188,4.5),(1193,6),(1200,5),(1205,3.5),(1214,4),(1222,5),
    (1230,6),(1241,7),(1247,5),(1258,4.5),(1262,3),(1276,4),(1285,5),(1292,3.5),(1304,5),(1310,6),(1318,4),
    (1325,2),(1336,4),(1341,6),(1343,8),(1350,10),(1353,9),(1356,7),(1360,6),(1363,5)]

wue_p_iso = [(-89,-48.7,12.6),(-78,-45.9,8),(-68,-45.3,4.5),(-62,-45.3,12.6),(-59,-54.8,12.6),(-47,-52.8,12.6),
    (-38,-52.8,32),(-30,-52.8,32),(-37,-59.4,25),(-24,-60.8,25),(-9,-67.2,25),(-3,-67.2,25),(15,-67.2,25),
    (28,-67.2,25),(41,-67.2,18),(53,-67.2,25),(62,-67.2,18),(77,-67.2,18),(84,-68.9,25),(92,-58.5,18),(115,-74.1,8),
    (123,-74.1,12.6),(130,-82.7,18),(146,-36.4,18),(159,-66,12.6),(182,-26,25),(189,-30.6,12.6),(194,-40.7,18),
    (205,-53.9,12.6),(217,-46.1,12.6),(230,-43.3,25),(226,-58.5,61),(239,-55.6,32),(249,-60.8,25),(244,-74.7,1),
    (257,-28,12.6),(266,-47,8),(273,-55,8),(286,-92.5,12.6),(276,-92.5,1),(292,-48.2,12.6),(300,-45.9,4.5),
    (308,-44.9,12.6),(313,-49.3,61),(322,-61.4,8),(337,-61.4,18),(330,-61.4,4.5),(343,-88.2,8),(351,-100,32),
    (365,-100,4.5),(369,-87.1,25),(375,-55.6,25),(383,-47.9,8),(390,-38.9,8),(406,-38.7,12.6),(410,-78.1,2),
    (422,-77,12.6),(436,-45.3,2),(456,-45.3,8),(497,-32,12.6),(505,-42.4,8),(517,-38.9,18),(523,-56.2,18),
    (532,-39.5,18),(537,-35.5,8),(544,-37.8,4.5),(552,-44.1,12.6),(561,-44.1,12.6),(570,-43,12.6),(585,-43,25),
    (567,-73.5,12.6),(594,-29.1,12.6),(602,-34.3,12.6),(614,-26.5,12.6),(625,-53.3,4.5),
    (649,-15.3,12.6),(655,-29.4,2),(660,-29.4,1),(664,-29.4,1),(668,-29.4,1),(695,-29.4,2),(642,-49.9,4.5),
    (702,-82.7,12.6),(707,-58.5,18),(714,-68.3,41),(729,-68.7,25),(735,-42.2,25),(749,-28,41),(785,-40.9,4.5),
    (797,-40.9,18),(808,-40.9,4.5),(829,-40.9,12.6),(834,-59.9,8),(841,-54.5,4.5),(847,-61.4,18),(855,-62.2,12.6),
    (860,-47.8,2),(870,-38.7,18),(884,-32.6,12.6),(894,-49.3,25),(903,-49.9,18),(911,-27.4,4.5),(919,-38,12.6),
    (927,-36,4.5),(925,-66.6,12.6),(938,-26.3,12.6),(947,-56.8,18),(956,-42.4,12.6),(967,-42.4,18),(974,-74.7,18),
    (984,-14.5,4.5),(996,-36,2),(1006,-48.2,32),(1000,-63.9,4.5),(1008,-24.5,12.6),(1009,-88.5,18),(1008,-104.6,18),
    (1000,-78.7,4.5),(1015,-70,4.5),(1018,-81.6,8),(1033,-57.4,8),(1033,-42.2,8),(1041,-26.3,2),(1039,-75.8,8),
    (1042,-61.4,4.5),(1045,-86.2,2),(1042,-71.4,2),(1050,-36.6,2),(1059,-38.9,4.5),(1057,-64.9,12.6),(1068,-63.1,12.6),
    (1074,-65.4,12.6),(1079,-67.7,8),(1071,-105.2,4.5),(1077,-101.2,4.5),(1075,-96.8,1),(1083,-35.5,12.6),
    (1081,-21.1,12.6),(1087,-17.6,25),(1092,-40.1,8),(1087,-41.8,8),(1091,-58.5,25),(1089,-63.1,18),(1095,-12.7,4.5),
    (1094,-25.7,2),(1086,-112.4,8),(1097,-112.4,18),(1109,-82.7,4.5),(1126,-23.4,18),(1130,-16.5,8),(1133,-32,8),
    (1138,-25.7,2),(1124,-60.3,32),(1132,-49.3,12.6),(1137,-77.2,2),(1142,-112.4,4.5),(1127,-119.6,8),(1151,-119,4.5),
    (1161,-81.6,2),(1164,-57.9,8),(1167,-106.3,8),(1171,-104,2),(1174,-83.3,2),(1173,-118.4,8),(1179,-74.1,8),
    (1195,-72.9,8),(1195,-86.2,4.5),(1197,-60.6,4.5),(1198,-100.6,8),(1210,-23.4,4.5),(1224,-100.6,2),(1227,-59.9,12.6),
    (1228,-30.3,8),(1227,-38.9,2),(1232,-66.6,2),(1233,-68.3,8),(1236,-41.2,12.6),(1238,-18,2),(1242,-12.4,2),
    (1239,-58.5,4.5),(1244,-69.1,18),(1256,-18.8,18),(1268,-39.9,85),(1272,-70,18),(1298,-36,4.5),(1301,-28.3,8),
    (1307,-29.7,12.6),(1314,-29.7,8),(1313,-26,4.5),(1303,-17.3,8),(1307,-8.4,12.6),(1308,-5.3,4.5),(1327,-6.7,2),
    (1326,-11.9,8),(1318,-19.1,4.5),(1333,-45.6,4.5),(1332,-57.4,8),(1345,-22.2,12.6),(1351,-25.1,12.6),
    (1355,-27.4,12.6),(1355,-17.3,8),(1351,-45.9,12.6),(1347,-66.4,25),(1351,-32.6,12.6),(1355,-30.9,8)]

wue_weekly_start = '2009-10-01'
wue_weekly = [-49.5,-47.5,-50.0,-51.0,-48.5,-50.0,-51.0,-49.5,-50.5,-51.0,-51.0,nan,nan,
    -51.0,-51.5,-54.0,-52.0,-51.8,-52.5,-53.0,-52.5,-53.0,-53.5,-53.0,-52.5,-52.0,-52.0,-52.5,-51.5,-51.0,-51.5,
    -52.0,-52.5,-52.0,-53.0,-52.5,-52.8,-53.5,-53.0,nan,
    -50.0,-50.5,-52.0,-52.5,-51.5,-50.0,-51.0,-52.0,-52.0,-51.0,-52.0,-52.5,-52.5,-52.0,-52.5,-53.0,-52.5,-52.5,
    -53.0,-52.5,-53.5,-53.0,-53.0,nan,nan,
    -53.0,-54.5,-55.0,-54.0,-54.2,-53.5,-53.0,-54.0,-54.5,-53.0,-53.0,-52.5,-53.5,-53.0,-53.2,-52.8,-53.0,-53.5,
    -52.5,-53.0,-52.8,-52.5,-53.0,-52.5,-52.2,-52.5,-52.0,-52.5,-52.0,-51.8,-52.5,-53.0,-52.0,-51.5,-52.0,-51.0,
    -51.5,-52.0,-51.0,-50.5,-51.0,-51.5,-51.0,-51.5,-52.0,-52.5,-52.0,-52.5,-53.0,-53.5,nan,nan,nan,
    -55.0,-55.5,-55.0,-54.0,-53.5,-55.0,-54.5,-54.5,-54.0,-53.5,-53.0,-53.5,-54.0,-53.2,-53.0,-53.5,-52.8,-53.0,
    -52.5,-53.0,-52.8,-52.2,-53.0,-52.5,-52.0,-52.5,-53.0,-52.5,-53.0,-52.2,-53.0,-52.5,-53.5,-53.0,-52.8,-52.0,
    -52.5,-53.0,-53.5,-52.8,-54.0,-53.5,-53.0,-53.5,-54.0,-53.5,-54.0,-53.8,-54.0,-53.5,nan,nan,
    -54.0,-53.8,-53.5,-53.0,-54.0,-54.5,-55.0,-54.5,-54.0,-54.5,-54.0,-53.5,-54.0,-54.5,-55.0,-54.0,-53.5,-54.0,
    -54.2,-53.8,-54.0,-54.5,-53.5,-54.0,-54.2,-53.8,-54.0,-54.3,-53.8,-54.5,-53.5,nan,nan,nan,
    -52.5,-52.0,-51.2,-49.0,-51.0,-51.5]

# ---------------- styling ----------------
c_p = '#8fafc4'
c_q = '#16324d'
c_ev = '#ffa500'
TICK = 21
LAB = 22


def to_dates(ref, days):
    return pd.Timestamp(ref) + pd.to_timedelta(np.asarray(days, dtype=float), unit='D')


def style(ax):
    for s in ax.spines.values():
        s.set_linewidth(1.5)
        s.set_color('#333333')
    ax.tick_params(labelsize=TICK, length=6, width=1.3, color='#333333')


def hydro_panel(ax, ref, q, p, ylim_q, ylim_p, pticks, lw_q, lw_p):
    dq, vq = zip(*q)
    ax.plot(to_dates(ref, dq), vq, color=c_q, lw=lw_q, zorder=2)
    ax.set_ylim(*ylim_q)
    ax.set_ylabel(r'$Q\ (mm\,d^{-1})$', fontsize=LAB, family='DejaVu Sans')
    ax2 = ax.twinx()
    dp, vp = zip(*p)
    ax2.vlines(to_dates(ref, dp), 0, vp, color=c_p, lw=lw_p)
    ax2.set_ylim(*ylim_p)
    ax2.set_yticks(pticks)
    ax2.set_ylabel(r'$P\ (mm\,d^{-1})$', fontsize=LAB, family='DejaVu Sans', labelpad=4)
    style(ax)
    style(ax2)
    return ax2


def iso_panel(ax, ref, piso, weekly_start, weekly, event=None):
    dd, vv, mm = zip(*piso)
    ax.scatter(to_dates(ref, dd), vv, s=np.array(mm) * 6, color=c_p, edgecolors='none', zorder=2)
    ax.set_ylim(-120, 0)
    ax.set_yticks([0, -25, -50, -75, -100])
    ax.set_ylabel(r'$P_{\delta^2H}$ (‰)', fontsize=LAB, family='DejaVu Sans')
    ax2 = ax.twinx()
    if event is not None:
        de, ve = zip(*event)
        ax2.scatter(to_dates(ref, de), ve, s=50, color=c_ev, edgecolors='none', zorder=3)
    wd = pd.date_range(weekly_start, periods=len(weekly), freq='7D')
    ax2.scatter(wd, weekly, s=58, color=c_q, edgecolors='none', zorder=4)
    ax2.set_ylim(-120, 0)
    ax2.set_yticks([0, -25, -50, -75, -100])
    ax2.set_ylabel(r'$Q_{\delta^2H}$ (‰)', fontsize=LAB, family='DejaVu Sans', labelpad=4)
    style(ax)
    style(ax2)
    return ax2


fig = plt.figure(figsize=(18.92, 19.18), dpi=100)
L, W = 0.0666, 0.8689
ax_a = fig.add_axes([L, 0.7925, W, 0.1804])
ax_b = fig.add_axes([L, 0.5740, W, 0.1814])
ax_c = fig.add_axes([L, 0.3566, W, 0.1809])
ax_d = fig.add_axes([L, 0.1387, W, 0.1814])

hydro_panel(ax_a, hoal_ref, hoal_q, hoal_p, (-0.025, 2.82), (69.5, 0), [0, 20, 40, 60], 1.3, 1.2)
ax_a.set_yticks([0, 1, 2])
ax_a.set_title('HOAL', fontsize=25, pad=8)
iso_panel(ax_b, hoal_ref, hoal_p_iso, hoal_weekly_start, hoal_weekly, hoal_q_event)

hydro_panel(ax_c, wue_ref, wue_q, wue_p, (-1.5, 33.9), (89.5, 0), [0, 20, 40, 60, 80], 1.8, 1.4)
ax_c.set_yticks([0, 10, 20, 30])
ax_c.set_title('Wüstebach', fontsize=24, pad=2)
iso_panel(ax_d, wue_ref, wue_p_iso, wue_weekly_start, wue_weekly)
ax_d.set_xlabel('Date', fontsize=TICK)

for ax in (ax_a, ax_b):
    ax.set_xlim(pd.Timestamp('2012-06-06'), pd.Timestamp('2019-05-24'))
    ax.xaxis.set_major_locator(mdates.YearLocator())
    ax.xaxis.set_major_formatter(mdates.DateFormatter('%Y'))
for ax in (ax_c, ax_d):
    ax.set_xlim(pd.Timestamp('2009-07-19'), pd.Timestamp('2013-12-13'))
    ax.xaxis.set_major_locator(mdates.MonthLocator(bymonth=[1, 7]))
    ax.xaxis.set_major_formatter(mdates.DateFormatter('%Y-%m'))
ax_b.tick_params(axis='x', pad=2)

for ax, lab in zip((ax_a, ax_b, ax_c, ax_d), ('a)', 'b)', 'c)', 'd)')):
    ax.text(0.02, 0.915, lab, transform=ax.transAxes, fontsize=TICK, va='center', ha='left')

handles = [Line2D([], [], color=c_p, lw=2.5),
           Line2D([], [], color=c_q, lw=2.5),
           Line2D([], [], marker='o', ls='none', color=c_p, markersize=11),
           Line2D([], [], marker='o', ls='none', color=c_ev, markersize=11),
           Line2D([], [], marker='o', ls='none', color=c_q, markersize=11)]
labels = ['Precipitation, P', 'Streamflow, Q', r'P $\delta^2H$ samples',
          r'Q Event  $\delta^2H$ samples', r'Q weekly $\delta^2H$ samples']
fig.legend(handles, labels, loc='center', bbox_to_anchor=(0.0365, 0.0104, 0.928, 0.0308),
           mode='expand', ncol=5, fontsize=TICK, handlelength=2.2, borderaxespad=0.)

fig.savefig('out.png', dpi=100)
